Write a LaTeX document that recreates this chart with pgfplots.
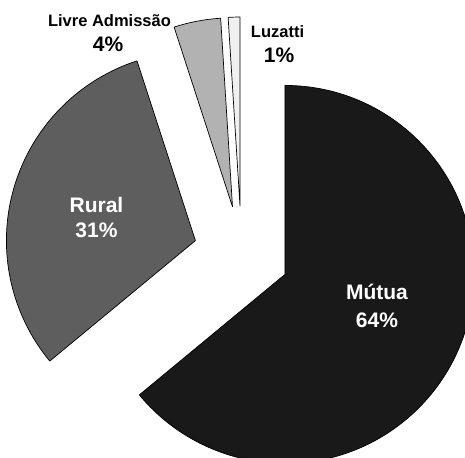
\documentclass[border=0pt]{standalone}
\usepackage{pgfplots}
\usepackage{pgfplotstable}
\pgfplotsset{compat=1.18}
\usepackage{fontspec}
\setmainfont{Liberation Sans}

% share (%) and fill darkness (black!x)
\pgfplotstableread{
share dark
64 90
31 63
4  30
1  6
}\piedata

\def\cx{241.5}  % pie centre
\def\cy{203}
\def\rad{189}   % radius
\def\expl{48}   % explode distance
\def\cumul{0}

\begin{document}
\begin{tikzpicture}
\begin{axis}[
    width=465pt, height=457pt,
    scale only axis,
    xmin=0, xmax=465,
    ymin=0, ymax=457,
    hide axis,
    clip=true,
]
\path (axis cs:0,0) rectangle (axis cs:465,457);
\pgfplotsextra{
  \begin{pgfinterruptboundingbox}
  \pgfplotstablegetrowsof{\piedata}
  \pgfmathtruncatemacro{\nrows}{\pgfplotsretval-1}
  \foreach \i in {0,...,\nrows} {
    \pgfplotstablegetelem{\i}{share}\of\piedata \let\val\pgfplotsretval
    \pgfplotstablegetelem{\i}{dark}\of\piedata \let\drk\pgfplotsretval
    \pgfmathsetmacro{\aone}{90-3.6*\cumul}
    \pgfmathsetmacro{\atwo}{\aone-3.6*\val}
    \pgfmathsetmacro{\amid}{(\aone+\atwo)/2}
    \pgfmathsetmacro{\px}{\cx+\expl*cos(\amid)}
    \pgfmathsetmacro{\py}{\cy+\expl*sin(\amid)}
    \filldraw[fill=black!\drk, draw=black, line width=0.7pt, line join=round]
      (axis cs:\px,\py) -- ++(\aone:\rad pt)
      arc[start angle=\aone, end angle=\atwo, radius=\rad pt] -- cycle;
    \pgfmathsetmacro{\newcum}{\cumul+\val}
    \global\let\cumul\newcum
  }
  \end{pgfinterruptboundingbox}
}

\node[anchor=base, text=white, font=\fontsize{21}{25}\selectfont\bfseries] at (axis cs:377,157) {Mútua};
\node[anchor=base, text=white, font=\fontsize{21}{25}\selectfont\bfseries] at (axis cs:377,129) {64\%};
\node[anchor=base, text=white, font=\fontsize{21}{25}\selectfont\bfseries] at (axis cs:96.5,244) {Rural};
\node[anchor=base, text=white, font=\fontsize{21}{25}\selectfont\bfseries] at (axis cs:96.5,219) {31\%};
\node[anchor=base, font=\fontsize{16.5}{20}\selectfont\bfseries] at (axis cs:109.5,430) {Livre Admissão};
\node[anchor=base, font=\fontsize{21}{25}\selectfont\bfseries] at (axis cs:108,405) {4\%};
\node[anchor=base, font=\fontsize{16.5}{20}\selectfont\bfseries] at (axis cs:277.5,419) {Luzatti};
\node[anchor=base, font=\fontsize{21}{25}\selectfont\bfseries] at (axis cs:279,394) {1\%};
\end{axis}
\end{tikzpicture}
\end{document}
